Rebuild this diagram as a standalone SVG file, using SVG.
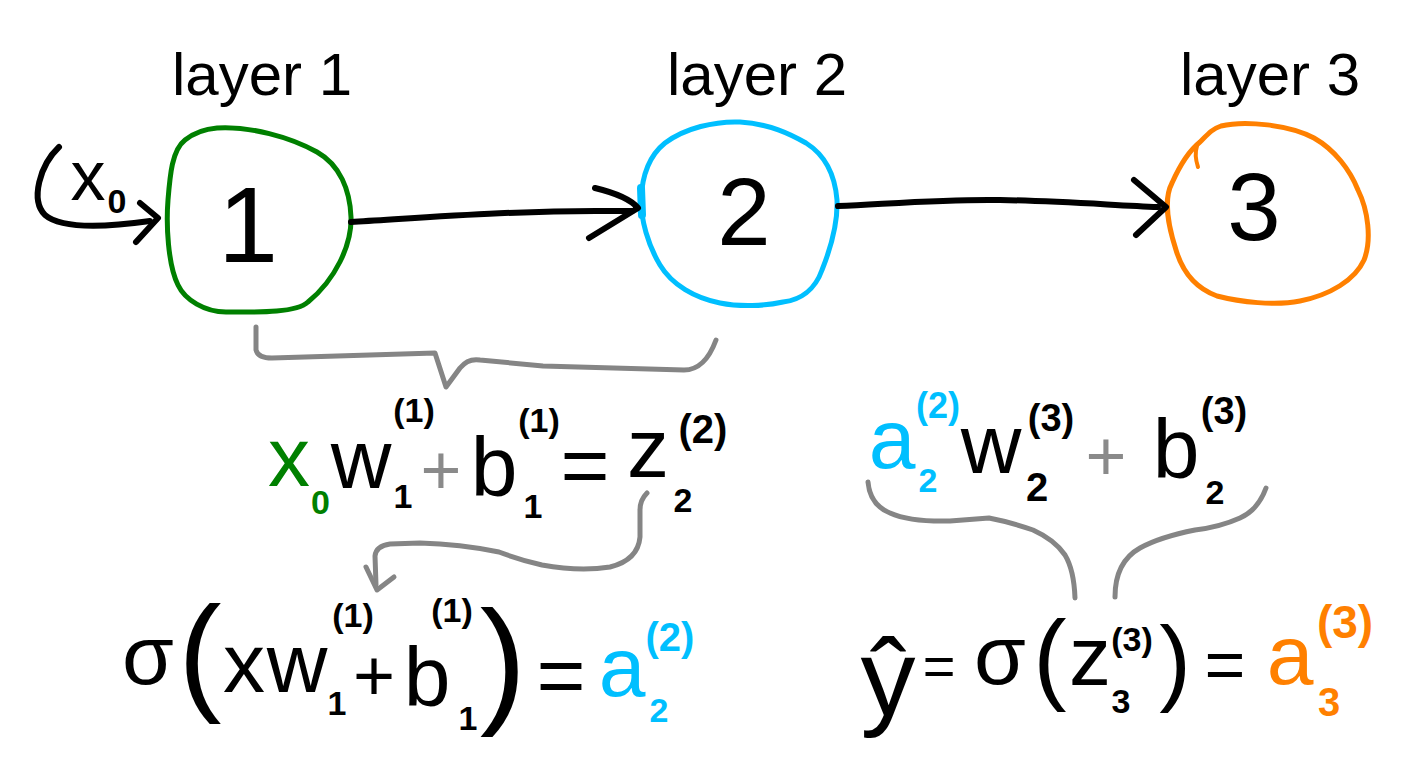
<svg xmlns="http://www.w3.org/2000/svg" width="1420" height="770" viewBox="0 0 1420 770">
<style>
text{font-family:"Liberation Sans",Arial,sans-serif;text-anchor:middle;fill:#000}
.lay{font-size:60px}
.dig{font-size:96px}
.eq{font-size:84px}
.s{font-size:34px;font-weight:bold}
.g{fill:#008000}
.b{fill:#00BFFF}
.o{fill:#FF8000}
.gr{fill:#8a8a8a}
.node{fill:none;stroke-width:5;stroke-linejoin:round}
.blk{fill:none;stroke:#000;stroke-width:6;stroke-linecap:round;stroke-linejoin:round}
.gry{fill:none;stroke:#858585;stroke-width:5;stroke-linecap:round;stroke-linejoin:round}
</style>
<rect width="1420" height="770" fill="#fff"/>

<g id="node-1">
<text class="lay" x="262" y="95">layer 1</text>
<path class="node" stroke="#008000" d="M217,128 C250,126 290,137 317,152 C340,165 350,190 351,217 C352,245 335,280 308,302 C295,314 250,312 226,312 C205,312 185,300 178,285 C168,265 166,225 168,200 C170,175 172,150 185,140 C195,132 205,129 217,128 Z"/>
<text class="dig" x="248" y="262" style="font-size:108px">1</text>
</g>

<g id="node-2">
<text class="lay" x="757" y="95">layer 2</text>
<path class="node" stroke="#00BFFF" d="M740,122 C770,124 790,134 806,143 C825,155 835,175 837,200 C838,225 830,250 822,270 C815,290 800,300 783,302 C765,306 740,307 720,303 C695,298 672,285 660,265 C648,245 641,220 641,200 C642,175 650,155 665,143 C685,128 715,121 740,122 Z"/>
<path d="M641,188 L642,215" stroke="#00BFFF" stroke-width="8" stroke-linecap="round"/>
<text class="dig" x="744" y="245">2</text>
</g>

<g id="node-3">
<text class="lay" x="1270" y="95">layer 3</text>
<path class="node" stroke="#FF8000" d="M1221,126 C1245,120 1290,125 1314,138 C1335,150 1350,170 1358,190 C1368,210 1372,240 1364,260 C1355,280 1330,295 1300,301 C1275,306 1240,302 1217,296 C1195,288 1182,270 1176,250 C1168,225 1163,200 1172,183 C1180,165 1190,150 1200,142 C1208,134 1212,129 1221,126 Z"/>
<path d="M1197,146 Q1194,155 1198,167" fill="none" stroke="#FF8000" stroke-width="4" stroke-linecap="round"/>
<text class="dig" x="1254" y="240">3</text>
</g>

<g id="input">
<text style="font-size:70px"><tspan x="88" y="200">x</tspan><tspan class="s" x="117" y="213">0</tspan></text>
</g>

<g id="connectors">
<path class="blk" d="M59,147 C40,165 30,200 45,215 C60,228 100,228 150,221"/>
<path class="blk" d="M140,203 L158,218 L136,242"/>
<path class="blk" d="M351,222 C420,218 520,210 611,211 L632,211"/>
<path class="blk" d="M595,188 Q628,196 638,208 Q615,222 589,238"/>
<path class="blk" d="M838,206 C900,203 950,199 1000,200 C1060,201 1110,205 1158,207"/>
<path class="blk" d="M1134,180 L1166,207 L1136,235"/>
<path class="gry" d="M256,327 L256,350 Q258,358 272,358 L435,353 L446,387 L460,368 Q468,358 480,360 L543,366 L684,370 Q705,370 716,340"/>
<path class="gry" d="M647,493 Q640,500 640,510 L640,537 Q638,560 610,567 Q580,572 542,565 Q520,560 499,552 Q460,544 420,543 L390,544 Q376,546 375,556 L376,585"/>
<path class="gry" d="M366,567 L377,590 L394,577"/>
<path class="gry" d="M868,482 Q870,505 890,513 Q910,522 950,521 L989,518 Q1010,522 1033,530 Q1055,540 1065,555 Q1074,570 1075,598"/>
<path class="gry" d="M1266,488 Q1258,510 1240,518 Q1220,527 1195,530 Q1160,537 1140,548 Q1115,562 1115,597"/>
</g>

<g id="eq-z2">
<text class="eq"><tspan class="g" x="289" y="486">x</tspan><tspan class="s g" x="320.5" y="514">0</tspan><tspan x="361" y="488">w</tspan><tspan class="s" x="403" y="508">1</tspan><tspan class="s" x="414" y="422">(1)</tspan><tspan class="gr" x="441" y="494" style="font-size:70px">+</tspan><tspan x="494" y="496">b</tspan><tspan class="s" x="533" y="518">1</tspan><tspan class="s" x="539" y="432">(1)</tspan><tspan x="585" y="494">=</tspan><tspan x="648" y="477">z</tspan><tspan class="s" x="683" y="512">2</tspan><tspan class="s" x="703" y="443" style="font-size:40px">(2)</tspan></text>
</g>

<g id="eq-a2">
<text class="eq"><tspan x="148" y="684">σ</tspan><tspan x="200" y="697" style="font-size:130px">(</tspan><tspan x="244" y="692">x</tspan><tspan x="297" y="692">w</tspan><tspan class="s" x="337" y="715">1</tspan><tspan class="s" x="353" y="627">(1)</tspan><tspan x="374" y="700" style="font-size:72px">+</tspan><tspan x="427" y="706">b</tspan><tspan class="s" x="468" y="730">1</tspan><tspan class="s" x="452" y="622">(1)</tspan><tspan x="503" y="708" style="font-size:140px">)</tspan><tspan x="561" y="704">=</tspan><tspan class="b" x="622" y="696">a</tspan><tspan class="s b" x="659" y="722">2</tspan><tspan class="s b" x="670" y="651" style="font-size:40px">(2)</tspan></text>
</g>

<g id="eq-z3">
<text class="eq"><tspan class="b" x="892" y="468">a</tspan><tspan class="s b" x="928" y="492">2</tspan><tspan class="s b" x="938" y="418" style="font-size:36px">(2)</tspan><tspan x="991" y="473">w</tspan><tspan class="s" x="1037" y="501" style="font-size:40px">2</tspan><tspan class="s" x="1051" y="431" style="font-size:38px">(3)</tspan><tspan class="gr" x="1106" y="480" style="font-size:70px">+</tspan><tspan x="1176" y="478">b</tspan><tspan class="s" x="1215" y="504">2</tspan><tspan class="s" x="1224" y="424" style="font-size:38px">(3)</tspan></text>
</g>

<g id="eq-a3">
<text class="eq"><tspan x="888" y="715" style="font-size:110px">ŷ</tspan><tspan x="939" y="685" style="font-size:56px">=</tspan><tspan x="1000" y="684">σ</tspan><tspan x="1050" y="691" style="font-size:100px">(</tspan><tspan x="1090" y="685">z</tspan><tspan class="s" x="1121" y="713">3</tspan><tspan class="s" x="1132" y="651">(3)</tspan><tspan x="1175" y="693" style="font-size:95px">)</tspan><tspan x="1225" y="689" style="font-size:70px">=</tspan><tspan class="o" x="1290" y="684">a</tspan><tspan class="s o" x="1329" y="716" style="font-size:40px">3</tspan><tspan class="s o" x="1345" y="638" style="font-size:46px">(3)</tspan></text>
</g>
</svg>
